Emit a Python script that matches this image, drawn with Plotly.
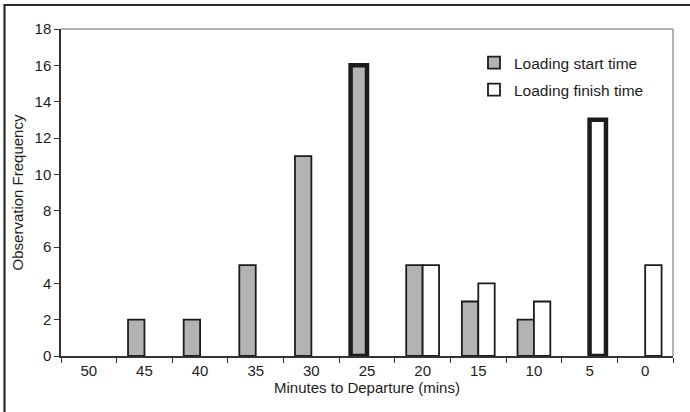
import plotly.graph_objects as go

# ---- data ----
minutes = ["50", "45", "40", "35", "30", "25", "20", "15", "10", "5", "0"]
start_counts = [0, 2, 2, 5, 11, 16, 5, 3, 2, 0, 0]
finish_counts = [0, 0, 0, 0, 0, 0, 5, 4, 3, 13, 5]
start_name = "Loading start time"
finish_name = "Loading finish time"
highlight_start = "25"
highlight_finish = "5"

W, H = 690, 412
L, R, T, B = 61, 17, 29, 56
PW, PH = W - L - R, H - T - B


def px(x):
    return (x - L) / PW


def py(y):
    return (H - B - y) / PH


def hide_zero(vals):
    # zero-count bars are not drawn (no outline at the baseline)
    return [v if v else None for v in vals]


FONT = "Liberation Sans, Arial, sans-serif"
INK = "#1c1c1c"
GRAY = "#b3b3b5"

start_lw = [4.5 if m == highlight_start else 1.8 for m in minutes]
finish_lw = [4.5 if m == highlight_finish else 1.8 for m in minutes]

fig = go.Figure()
fig.add_trace(go.Bar(
    x=minutes, y=hide_zero(start_counts), name=start_name,
    marker=dict(color=GRAY, line=dict(color=INK, width=start_lw)),
    legend="legend",
))
fig.add_trace(go.Bar(
    x=minutes, y=hide_zero(finish_counts), name=finish_name,
    marker=dict(color="white", line=dict(color=INK, width=finish_lw)),
    legend="legend2",
))

legend_common = dict(
    font=dict(family=FONT, size=15.5, color=INK),
    bgcolor="rgba(0,0,0,0)", borderwidth=0,
    xanchor="left", yanchor="middle", itemclick=False,
)

fig.update_layout(
    width=W, height=H,
    margin=dict(l=L, r=R, t=T, b=B, pad=0),
    paper_bgcolor="white", plot_bgcolor="white",
    barmode="group", bargap=0.41, bargroupgap=0,
    font=dict(family=FONT, size=15, color=INK),
    showlegend=True,
    legend=dict(x=px(474), y=py(63), **legend_common),
    legend2=dict(x=px(474), y=py(90), **legend_common),
    xaxis=dict(
        type="category", categoryorder="array", categoryarray=minutes,
        tickson="boundaries", ticks="outside", ticklen=5, tickwidth=1,
        tickcolor="#333", showline=True, linecolor="#333", linewidth=1.5,
        showgrid=False, zeroline=False,
        tickfont=dict(family=FONT, size=15, color=INK),
        title=dict(text="Minutes to Departure (mins)",
                   font=dict(family=FONT, size=15, color=INK), standoff=5),
    ),
    yaxis=dict(
        range=[0, 18], dtick=2, ticks="outside", ticklen=5, tickwidth=1,
        tickcolor="#333", showline=True, linecolor="#333", linewidth=1.5,
        showgrid=False, zeroline=False,
        tickfont=dict(family=FONT, size=15, color=INK),
        title=dict(text="Observation Frequency",
                   font=dict(family=FONT, size=15, color=INK), standoff=7),
    ),
    shapes=[
        # plot frame (top and right) in light gray
        dict(type="line", xref="paper", yref="paper", x0=0, x1=1, y0=1, y1=1,
             line=dict(color="#9a9a9a", width=1.5), layer="below"),
        dict(type="line", xref="paper", yref="paper", x0=1, x1=1, y0=0, y1=1,
             line=dict(color="#9a9a9a", width=1.5), layer="below"),
        # outer chart border (cropped at right/bottom)
        dict(type="rect", xref="paper", yref="paper",
             x0=px(4.5), x1=px(720), y0=py(440), y1=py(5),
             line=dict(color="#2a2a2a", width=2.2), fillcolor="rgba(0,0,0,0)"),
    ],
)

fig.write_html("out.html")
